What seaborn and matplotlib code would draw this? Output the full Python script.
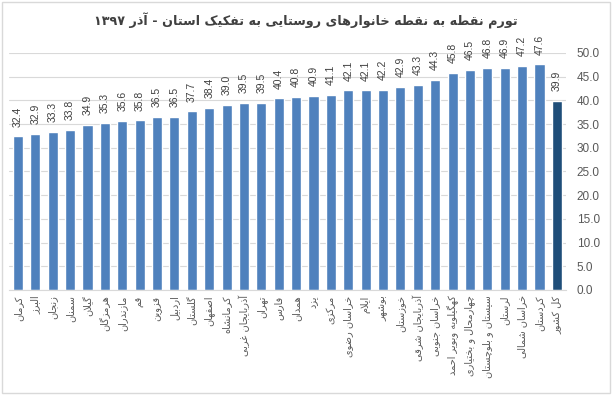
import matplotlib
matplotlib.use('Agg')
import matplotlib.pyplot as plt
import seaborn as sns
import pandas as pd
from matplotlib.patches import Rectangle

# chart data
title = 'تورم نقطه به نقطه خانوارهای روستایی به تفکیک استان - آذر ۱۳۹۷'
provinces = ['کرمان', 'البرز', 'زنجان', 'سمنان', 'گیلان', 'هرمزگان', 'مازندران', 'قم',
             'قزوین', 'اردبیل', 'گلستان', 'اصفهان', 'کرمانشاه', 'آذربایجان غربی', 'تهران',
             'فارس', 'همدان', 'یزد', 'مرکزی', 'خراسان رضوی', 'ایلام', 'بوشهر', 'خوزستان',
             'آذربایجان شرقی', 'خراسان جنوبی', 'کهگیلویه وبویر احمد', 'چهارمحال و بختیاری',
             'سیستان و بلوچستان', 'لرستان', 'خراسان شمالی', 'کردستان', 'کل کشور']
inflation = [32.4, 32.9, 33.3, 33.8, 34.9, 35.3, 35.6, 35.8, 36.5, 36.5, 37.7, 38.4, 39.0,
             39.5, 39.5, 40.4, 40.8, 40.9, 41.1, 42.1, 42.1, 42.2, 42.9, 43.3, 44.3, 45.8,
             46.5, 46.8, 46.9, 47.2, 47.6, 39.9]
group = ['province'] * 31 + ['total']

# matplotlib has no arabic shaping, so map letters to presentation forms by hand
# (isolated, final, initial, medial)
FORMS = {
    'ا': (0xFE8D, 0xFE8E, 0xFE8D, 0xFE8E), 'آ': (0xFE81, 0xFE82, 0xFE81, 0xFE82),
    'ب': (0xFE8F, 0xFE90, 0xFE91, 0xFE92), 'پ': (0xFB56, 0xFB57, 0xFB58, 0xFB59),
    'ت': (0xFE95, 0xFE96, 0xFE97, 0xFE98), 'ث': (0xFE99, 0xFE9A, 0xFE9B, 0xFE9C),
    'ج': (0xFE9D, 0xFE9E, 0xFE9F, 0xFEA0), 'چ': (0xFB7A, 0xFB7B, 0xFB7C, 0xFB7D),
    'ح': (0xFEA1, 0xFEA2, 0xFEA3, 0xFEA4), 'خ': (0xFEA5, 0xFEA6, 0xFEA7, 0xFEA8),
    'د': (0xFEA9, 0xFEAA, 0xFEA9, 0xFEAA), 'ذ': (0xFEAB, 0xFEAC, 0xFEAB, 0xFEAC),
    'ر': (0xFEAD, 0xFEAE, 0xFEAD, 0xFEAE), 'ز': (0xFEAF, 0xFEB0, 0xFEAF, 0xFEB0),
    'ژ': (0xFB8A, 0xFB8B, 0xFB8A, 0xFB8B), 'س': (0xFEB1, 0xFEB2, 0xFEB3, 0xFEB4),
    'ش': (0xFEB5, 0xFEB6, 0xFEB7, 0xFEB8), 'ص': (0xFEB9, 0xFEBA, 0xFEBB, 0xFEBC),
    'ض': (0xFEBD, 0xFEBE, 0xFEBF, 0xFEC0), 'ط': (0xFEC1, 0xFEC2, 0xFEC3, 0xFEC4),
    'ظ': (0xFEC5, 0xFEC6, 0xFEC7, 0xFEC8), 'ع': (0xFEC9, 0xFECA, 0xFECB, 0xFECC),
    'غ': (0xFECD, 0xFECE, 0xFECF, 0xFED0), 'ف': (0xFED1, 0xFED2, 0xFED3, 0xFED4),
    'ق': (0xFED5, 0xFED6, 0xFED7, 0xFED8), 'ک': (0xFB8E, 0xFB8F, 0xFB90, 0xFB91),
    'گ': (0xFB92, 0xFB93, 0xFB94, 0xFB95), 'ل': (0xFEDD, 0xFEDE, 0xFEDF, 0xFEE0),
    'م': (0xFEE1, 0xFEE2, 0xFEE3, 0xFEE4), 'ن': (0xFEE5, 0xFEE6, 0xFEE7, 0xFEE8),
    'و': (0xFEED, 0xFEEE, 0xFEED, 0xFEEE), 'ه': (0xFEE9, 0xFEEA, 0xFEEB, 0xFEEC),
    'ی': (0xFBFC, 0xFBFD, 0xFBFE, 0xFBFF), 'ئ': (0xFE89, 0xFE8A, 0xFE8B, 0xFE8C),
}
RIGHT_ONLY = set('اآدذرزژو')
LAM_ALEF = {'ا': (0xFEFB, 0xFEFC), 'آ': (0xFEF5, 0xFEF6)}


def shape_word(w):
    out = []
    i = 0
    while i < len(w):
        c = w[i]
        if c not in FORMS:
            out.append(c)
            i += 1
            continue
        prev_join = i > 0 and w[i - 1] in FORMS and w[i - 1] not in RIGHT_ONLY
        nxt = w[i + 1] if i + 1 < len(w) else ''
        if c == 'ل' and nxt in LAM_ALEF:
            out.append(chr(LAM_ALEF[nxt][1 if prev_join else 0]))
            i += 2
            continue
        next_join = c not in RIGHT_ONLY and nxt in FORMS
        iso, fin, ini, med = FORMS[c]
        if prev_join and next_join:
            out.append(chr(med))
        elif prev_join:
            out.append(chr(fin))
        elif next_join:
            out.append(chr(ini))
        else:
            out.append(chr(iso))
        i += 1
    return ''.join(out)


def rtl(text):
    words = []
    for t in text.split(' '):
        if any(ch in FORMS for ch in t):
            words.append(shape_word(t)[::-1])
        else:
            words.append(t)
    return ' '.join(reversed(words))


df = pd.DataFrame({'province': provinces, 'inflation': inflation, 'group': group})

sns.set_style('white')
plt.rcParams['font.family'] = ['DejaVu Sans']

fig = plt.figure(figsize=(6.12, 3.95), dpi=100)
ax = fig.add_axes([0.0152, 0.266, 0.909, 0.6])

sns.barplot(data=df, x='province', y='inflation', hue='group',
            palette={'province': '#4F81BD', 'total': '#1F4E79'},
            width=0.58, dodge=False, legend=False, saturation=1, ax=ax)

for cont in ax.containers:
    ax.bar_label(cont, fmt='%.1f', rotation=90, padding=7, fontsize=7.5,
                 color='#404040', family='Liberation Sans')

ax.set_ylim(0, 50)
ax.set_yticks(range(0, 51, 5))
ax.set_yticklabels([f'{v:.1f}' for v in range(0, 51, 5)], fontsize=8.5,
                   color='#595959', family='Liberation Sans')
ax.yaxis.tick_right()
ax.set_xticks(range(len(provinces)))
ax.set_xticklabels([rtl(p) for p in provinces], rotation=90, fontsize=7,
                   color='#595959', va='top', ha='center')
ax.tick_params(length=0)
ax.tick_params(axis='y', pad=8)
ax.tick_params(axis='x', pad=4)
ax.grid(axis='y', color='#D9D9D9', linewidth=0.8)
ax.set_axisbelow(True)
for side in ['left', 'right', 'top']:
    ax.spines[side].set_visible(False)
ax.spines['bottom'].set_color('#D9D9D9')
ax.set_xlabel('')
ax.set_ylabel('')

fig.text(0.5, 0.948, rtl(title), ha='center', va='center', fontsize=9.2,
         fontweight='bold', color='#404040')
fig.patches.append(Rectangle((0.003, 0.006), 0.993, 0.988, transform=fig.transFigure,
                             fill=False, edgecolor='#D9D9D9', linewidth=1))

fig.savefig('out.png', dpi=100)
